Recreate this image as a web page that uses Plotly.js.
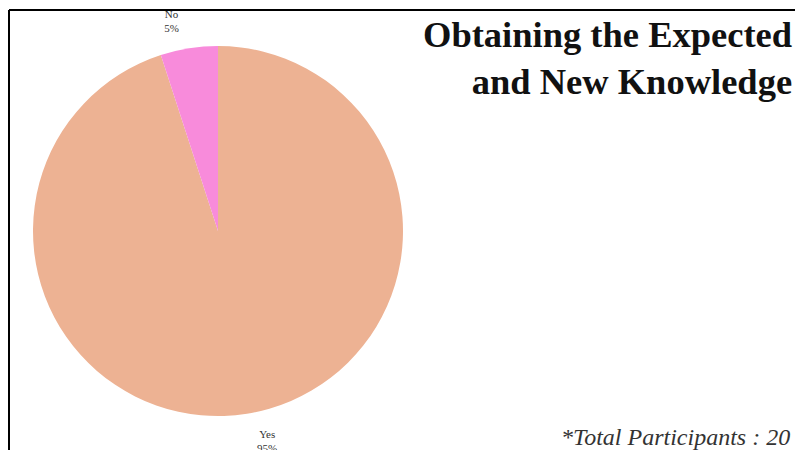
<!DOCTYPE html>
<html>
<head>
<meta charset="utf-8">
<script src="https://cdn.plot.ly/plotly-3.0.1.min.js"></script>
<style>
html,body{margin:0;padding:0;background:#fff;}
#chart{width:795px;height:450px;}
</style>
</head>
<body>
<div id="chart"></div>
<script>
const categories = ["Yes", "No"];
const values = [19, 1];
const colors = ["#EDB293", "#F88BDB"];
const titleLines = ["Obtaining the Expected", "and New Knowledge"];
const footnote = "*Total Participants : 20";

const W = 795, H = 450;
const px = x => x / W;
const py = y => 1 - y / H;

const trace = {
  type: "pie",
  labels: categories,
  values: values,
  sort: false,
  direction: "clockwise",
  rotation: 0,
  marker: {colors: colors, line: {width: 0}},
  texttemplate: [" <br>%{label}<br>%{percent}", "%{label}<br>%{percent}<br> "],
  textposition: "outside",
  textfont: {family: "Liberation Serif", size: 11, color: "#333"},
  showlegend: false,
  hoverinfo: "label+percent",
  domain: {x: [px(33), px(403)], y: [py(416), py(46)]},
  automargin: false
};

const layout = {
  width: W, height: H,
  margin: {l: 0, r: 0, t: 0, b: 0},
  paper_bgcolor: "#fff",
  plot_bgcolor: "#fff",
  showlegend: false,
  shapes: [
    {type: "line", xref: "paper", yref: "paper", x0: px(9), x1: 1.05, y0: py(10), y1: py(10), line: {color: "#000", width: 2}},
    {type: "line", xref: "paper", yref: "paper", x0: px(9), x1: px(9), y0: py(10), y1: -0.05, line: {color: "#000", width: 2}}
  ],
  annotations: [
    {xref: "paper", yref: "paper", x: px(794), y: py(12), xanchor: "right", yanchor: "top",
     text: "<b>" + titleLines.join("<br>") + "</b>", align: "right", showarrow: false,
     font: {family: "Liberation Serif", size: 36.5, color: "#111"}},
    {xref: "paper", yref: "paper", x: px(792), y: py(452), xanchor: "right", yanchor: "bottom",
     text: "<i>" + footnote + "</i>", align: "right", showarrow: false,
     font: {family: "Liberation Serif", size: 24, color: "#333"}}
  ]
};

Plotly.newPlot("chart", [trace], layout, {displayModeBar: false, staticPlot: true});
</script>
</body>
</html>
